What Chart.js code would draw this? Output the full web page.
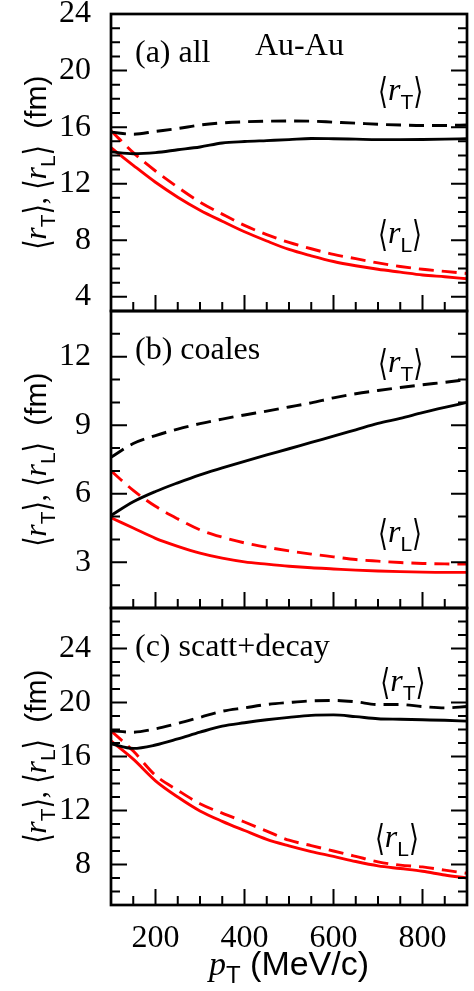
<!DOCTYPE html>
<html>
<head>
<meta charset="utf-8">
<script src="https://cdn.jsdelivr.net/npm/chart.js@4.4.1/dist/chart.umd.min.js"></script>
<style>
  html, body { margin: 0; padding: 0; background: #fff; }
  #wrap { position: relative; width: 474px; height: 991px; overflow: hidden; }
  .panel { position: absolute; left: 0; width: 474px; }
</style>
</head>
<body>
<div id="wrap">
  <div class="panel" style="top:0;height:316px"><canvas id="chartA"></canvas></div>
  <div class="panel" style="top:306px;height:307px"><canvas id="chartB"></canvas></div>
  <div class="panel" style="top:603px;height:388px"><canvas id="chartC"></canvas></div>
</div>
<script>
// p_T grid (MeV/c)
const pT = [100, 150, 200, 250, 300, 350, 400, 450, 500, 550, 600, 650, 700, 750, 800, 850, 900];

// (a) all
const allRtSolid  = [14.25, 14.12, 14.2, 14.4, 14.6, 14.88, 14.98, 15.05, 15.12, 15.2, 15.18, 15.15, 15.12, 15.12, 15.13, 15.15, 15.18];
const allRtDashed = [15.65, 15.5, 15.7, 15.9, 16.15, 16.3, 16.38, 16.42, 16.43, 16.42, 16.35, 16.28, 16.2, 16.15, 16.12, 16.12, 16.15];
const allRlSolid  = [14.55, 13.3, 12.1, 11.05, 10.13, 9.35, 8.6, 7.95, 7.35, 6.9, 6.5, 6.2, 5.95, 5.75, 5.55, 5.42, 5.28];
const allRlDashed = [15.75, 14.2, 12.9, 11.75, 10.7, 9.85, 9.05, 8.4, 7.85, 7.4, 7.0, 6.7, 6.4, 6.15, 5.95, 5.8, 5.65];

// (b) coales
const coaRtSolid  = [5.05, 5.65, 6.1, 6.48, 6.83, 7.13, 7.42, 7.7, 7.97, 8.25, 8.52, 8.8, 9.08, 9.3, 9.55, 9.78, 10.0];
const coaRtDashed = [7.6, 8.2, 8.55, 8.83, 9.07, 9.27, 9.45, 9.62, 9.8, 9.98, 10.2, 10.38, 10.52, 10.65, 10.77, 10.88, 11.0];
const coaRlSolid  = [4.95, 4.5, 4.05, 3.7, 3.4, 3.18, 3.02, 2.92, 2.83, 2.76, 2.71, 2.66, 2.62, 2.59, 2.57, 2.56, 2.56];
const coaRlDashed = [7.0, 6.15, 5.45, 4.9, 4.42, 4.1, 3.85, 3.66, 3.5, 3.36, 3.24, 3.12, 3.05, 2.99, 2.95, 2.93, 2.92];

// (c) scatt+decay
const scdRtSolid  = [16.95, 16.6, 16.85, 17.3, 17.8, 18.25, 18.5, 18.72, 18.9, 19.05, 19.08, 18.95, 18.8, 18.76, 18.72, 18.68, 18.62];
const scdRtDashed = [17.9, 17.8, 18.05, 18.45, 18.9, 19.35, 19.6, 19.85, 20.0, 20.12, 20.15, 20.05, 19.85, 19.85, 19.7, 19.6, 19.7];
const scdRlSolid  = [17.15, 15.8, 14.2, 13.0, 11.97, 11.2, 10.52, 9.86, 9.38, 8.96, 8.6, 8.22, 7.9, 7.7, 7.5, 7.22, 7.0];
const scdRlDashed = [17.9, 16.4, 14.6, 13.5, 12.5, 11.8, 11.15, 10.47, 9.8, 9.4, 9.0, 8.6, 8.2, 7.95, 7.82, 7.58, 7.35];

// tick labels
const xTicks  = [200, 400, 600, 800];
const yTicksA = [4, 8, 12, 16, 20, 24];
const yTicksB = [3, 6, 9, 12];
const yTicksC = [8, 12, 16, 20, 24];

const SERIF = "'Liberation Serif', 'Times New Roman', 'DejaVu Serif', serif";
const SANS = "'Liberation Sans', Arial, 'DejaVu Sans', sans-serif";
const BRACKET = "'DejaVu Sans', 'DejaVu Serif', sans-serif";
const RED = '#ff0000';

Chart.defaults.font.family = SERIF;
Chart.defaults.font.size = 32;
Chart.defaults.color = '#000';

// draw a row of text pieces: [text, font, dy, sx, sy]
function drawRich(ctx, parts, x, y, align) {
    const widthOf = p => { ctx.font = p[1]; return ctx.measureText(p[0]).width * (p[3] || 1); };
    let w = 0;
    parts.forEach(p => { w += widthOf(p); });
    let cx = align === 'center' ? x - w / 2 : x;
    parts.forEach(p => {
        const pw = widthOf(p);
        ctx.save();
        ctx.translate(cx, y + (p[2] || 0));
        ctx.scale(p[3] || 1, p[4] || 1);
        ctx.fillText(p[0], 0, 0);
        ctx.restore();
        cx += pw;
    });
}

function bracketParts(sub) {
    return [
        ['\u27E8', '30px ' + BRACKET, 3, 0.85, 1.2],
        ['r', 'italic 32px ' + SERIF],
        [sub, '21px ' + SANS, 9],
        ['\u27E9', '30px ' + BRACKET, 3, 0.85, 1.2]
    ];
}

// frame, inward ticks and the texts
const decorPlugin = {
    id: 'decor',
    afterDatasetsDraw(chart, args, opts) {
        const { ctx, chartArea: a, scales: { x, y } } = chart;
        ctx.save();
        ctx.strokeStyle = '#000';
        ctx.lineWidth = 2;
        ctx.beginPath();
        for (let v = Math.ceil(y.min); v <= y.max; v += 1) {
            const py = y.getPixelForValue(v);
            const len = opts.yMajor.includes(v) ? 16 : 9;
            ctx.moveTo(a.left, py); ctx.lineTo(a.left + len, py);
            ctx.moveTo(a.right, py); ctx.lineTo(a.right - len, py);
        }
        for (let v = x.min; v <= x.max; v += 50) {
            const px = x.getPixelForValue(v);
            const len = xTicks.includes(v) ? 16 : 9;
            ctx.moveTo(px, a.bottom); ctx.lineTo(px, a.bottom - len);
        }
        ctx.stroke();
        ctx.lineWidth = 2.7;
        ctx.strokeRect(a.left, a.top, a.right - a.left, a.bottom - a.top);

        ctx.fillStyle = '#000';
        ctx.textBaseline = 'alphabetic';
        ctx.textAlign = 'left';

        // panel label
        ctx.font = '32px ' + SERIF;
        ctx.fillText(opts.label, a.left + 24, a.top + 48);
        if (opts.extra) ctx.fillText(opts.extra, a.left + 144, a.top + 41);

        // <r_T>, <r_L> labels, placed in data units
        opts.notes.forEach(n => {
            drawRich(ctx, bracketParts(n.sub), x.getPixelForValue(n.x), y.getPixelForValue(n.y), 'left');
        });

        // y title, rotated
        ctx.save();
        ctx.translate(46, (a.top + a.bottom) / 2);
        ctx.rotate(-Math.PI / 2);
        const title = bracketParts('T').concat([[', ', '30px ' + SERIF]], bracketParts('L'), [['  (fm)', '30px ' + SANS]]);
        drawRich(ctx, title, 0, 0, 'center');
        ctx.restore();

        // x title on the bottom panel only
        if (opts.xTitle) {
            drawRich(ctx, [
                ['p', 'italic 34px ' + SERIF],
                ['T', '24px ' + SANS, 8],
                [' (MeV/c)', '34px ' + SANS]
            ], (a.left + a.right) / 2, a.bottom + 70, 'center');
        }
        ctx.restore();
    }
};

function series(values, color, dashed) {
    return {
        data: pT.map((x, i) => ({ x: x, y: values[i] })),
        borderColor: color,
        borderWidth: 2.9,
        borderDash: dashed ? [15, 8] : [],
        pointRadius: 0,
        cubicInterpolationMode: 'monotone',
        fill: false
    };
}

function makeChart(id, cfg) {
    const ctx = document.getElementById(id).getContext('2d');
    const xHeight = cfg.xTitle ? 86 : 0;
    return new Chart(ctx, {
        type: 'line',
        data: {
            datasets: [
                series(cfg.rtDashed, '#000', true),
                series(cfg.rtSolid, '#000', false),
                series(cfg.rlDashed, RED, true),
                series(cfg.rlSolid, RED, false)
            ]
        },
        options: {
            responsive: true,
            maintainAspectRatio: false,
            animation: false,
            layout: { padding: { left: 0, right: 7, top: cfg.padTop, bottom: cfg.padBottom } },
            plugins: {
                legend: { display: false },
                tooltip: { enabled: false },
                decor: {
                    yMajor: cfg.yTicks,
                    label: cfg.label,
                    extra: cfg.extra,
                    notes: cfg.notes,
                    xTitle: cfg.xTitle
                }
            },
            scales: {
                x: {
                    type: 'linear',
                    min: 100,
                    max: 900,
                    display: cfg.xTitle ? true : false,
                    grid: { display: false },
                    border: { display: false },
                    ticks: { padding: 6, maxRotation: 0, autoSkip: false, font: { size: 32 } },
                    afterBuildTicks: s => { s.ticks = xTicks.map(v => ({ value: v })); },
                    afterFit: s => { s.height = xHeight; s.paddingLeft = 0; s.paddingRight = 0; }
                },
                y: {
                    min: cfg.yMin,
                    max: cfg.yMax,
                    grid: { display: false },
                    border: { display: false },
                    ticks: { padding: 12, font: { size: 32 } },
                    afterBuildTicks: s => { s.ticks = cfg.yTicks.map(v => ({ value: v })); },
                    afterFit: s => { s.width = 111; s.paddingTop = 0; s.paddingBottom = 0; }
                }
            }
        },
        plugins: [decorPlugin]
    });
}

makeChart('chartA', {
    rtSolid: allRtSolid, rtDashed: allRtDashed, rlSolid: allRlSolid, rlDashed: allRlDashed,
    yMin: 3, yMax: 24, yTicks: yTicksA, padTop: 14, padBottom: 5,
    label: '(a) all', extra: 'Au-Au',
    notes: [{ sub: 'T', x: 700, y: 17.9 }, { sub: 'L', x: 700, y: 7.8 }]
});

makeChart('chartB', {
    rtSolid: coaRtSolid, rtDashed: coaRtDashed, rlSolid: coaRlSolid, rlDashed: coaRlDashed,
    yMin: 1, yMax: 14, yTicks: yTicksB, padTop: 5, padBottom: 5,
    label: '(b) coales',
    notes: [{ sub: 'T', x: 700, y: 11.33 }, { sub: 'L', x: 700, y: 3.89 }]
});

makeChart('chartC', {
    rtSolid: scdRtSolid, rtDashed: scdRtDashed, rlSolid: scdRlSolid, rlDashed: scdRlDashed,
    yMin: 5, yMax: 27, yTicks: yTicksC, padTop: 5, padBottom: 0,
    label: '(c) scatt+decay', xTitle: true,
    notes: [{ sub: 'T', x: 705, y: 20.85 }, { sub: 'L', x: 693, y: 9.3 }]
});
</script>
</body>
</html>
